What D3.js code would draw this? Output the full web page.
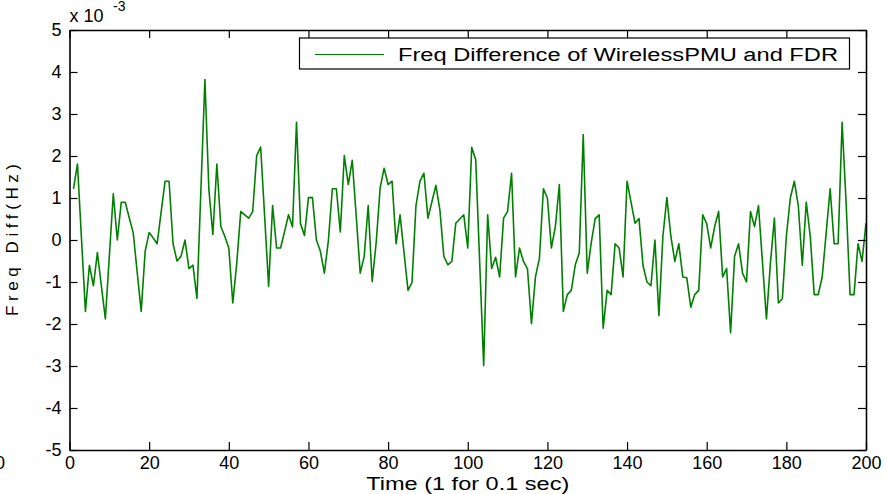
<!DOCTYPE html>
<html>
<head>
<meta charset="utf-8">
<script src="https://cdn.jsdelivr.net/npm/d3@7"></script>
<style>
  body { margin: 0; background: #fff; }
  svg text { font-family: "Liberation Sans", Arial, sans-serif; fill: #000; }
</style>
</head>
<body>
<svg id="chart" width="885" height="494"></svg>
<script>
// frequency difference samples, t = 1..200 (units of 1e-3 Hz)
const freqDiff = [
  1.22, 1.81, 0.05, -1.70, -0.60, -1.09, -0.30, -1.09, -1.88, -0.39,
  1.10, 0.00, 0.90, 0.90, 0.53, 0.17, -0.77, -1.70, -0.27, 0.18,
  0.05, -0.09, 0.66, 1.40, 1.40, -0.09, -0.50, -0.39, 0.00, -0.68,
  -0.60, -1.39, 1.21, 3.82, 1.20, 0.13, 1.81, 0.32, 0.09, -0.19,
  -1.50, -0.55, 0.68, 0.60, 0.52, 0.68, 2.01, 2.21, 0.56, -1.10,
  0.82, -0.19, -0.19, 0.20, 0.60, 0.31, 2.80, 0.39, 0.11, 1.01,
  1.01, 0.00, -0.27, -0.79, -0.02, 1.22, 1.22, 0.19, 2.01, 1.32,
  1.90, 0.56, -0.79, -0.39, 0.82, -0.99, -0.07, 1.24, 1.71, 1.32,
  1.40, -0.09, 0.60, -0.30, -1.20, -1.01, 0.82, 1.40, 1.59, 0.52,
  0.91, 1.30, 0.72, -0.39, -0.59, -0.51, 0.40, 0.50, 0.60, -0.19,
  2.21, 1.91, -0.54, -2.99, 0.60, -0.68, -0.41, -0.88, 0.52, 0.68,
  1.59, -0.88, -0.19, -0.51, -0.69, -1.99, -0.88, -0.43, 1.22, 1.00,
  -0.19, 0.32, 1.32, -1.70, -1.30, -1.20, -0.59, -0.31, 2.51, -0.79,
  -0.07, 0.51, 0.60, -2.10, -1.20, -1.30, -0.09, -0.19, -0.88, 1.40,
  0.90, 0.40, 0.51, -0.60, -1.00, -1.09, 0.00, -1.80, 0.09, 1.01,
  0.09, -0.51, -0.09, -0.88, -0.90, -1.60, -1.30, -1.20, 0.60, 0.39,
  -0.19, 0.32, 0.68, -0.88, -0.68, -2.21, -0.39, -0.09, -0.79, -1.00,
  0.68, 0.32, 0.82, -0.53, -1.88, -0.55, 0.52, -1.50, -1.40, 0.09,
  1.00, 1.40, 0.82, -0.60, 0.90, 0.09, -1.30, -1.30, -0.88, 0.17,
  1.22, -0.09, -0.09, 2.80, 0.90, -1.30, -1.30, -0.09, -0.51, 0.40
];
const xTicks = [0, 20, 40, 60, 80, 100, 120, 140, 160, 180, 200];
const yTicks = [-5, -4, -3, -2, -1, 0, 1, 2, 3, 4, 5];
const seriesName = 'Freq Difference of WirelessPMU and FDR';
const xTitle = 'Time (1 for 0.1 sec)';
const yTitle = 'Freq Diff(Hz)';

const margin = { left: 69.5, right: 19, top: 30, bottom: 44 };
const width = 885, height = 494;
const svg = d3.select('#chart');

const x = d3.scaleLinear().domain([0, 200]).range([margin.left, width - margin.right]);
const y = d3.scaleLinear().domain([-5, 5]).range([height - margin.bottom, margin.top]);

const tickLen = 8;
const fontSize = 18;
const plain = d => String(d); // hyphen minus, as in the original

// clip so the trace stays inside the box
svg.append('clipPath').attr('id', 'plotClip')
  .append('rect')
  .attr('x', x(0)).attr('y', y(5))
  .attr('width', x(200) - x(0)).attr('height', y(-5) - y(5));

const data = freqDiff.map((v, i) => ({ t: i + 1, v }));

svg.append('path')
  .datum(data)
  .attr('clip-path', 'url(#plotClip)')
  .attr('fill', 'none')
  .attr('stroke', '#008000')
  .attr('stroke-width', 1.6)
  .attr('stroke-linejoin', 'round')
  .attr('d', d3.line().x(d => x(d.t)).y(d => y(d.v)));

// axes: ticks pointing inward on all four sides (box style)
const axisBottom = svg.append('g')
  .attr('transform', `translate(0,${y(-5)})`)
  .call(d3.axisBottom(x).tickValues(xTicks).tickFormat(plain).tickSizeInner(-tickLen).tickSizeOuter(0).tickPadding(6));
const axisTop = svg.append('g')
  .attr('transform', `translate(0,${y(5)})`)
  .call(d3.axisTop(x).tickValues(xTicks).tickSizeInner(-tickLen).tickSizeOuter(0).tickFormat(''));
const axisLeft = svg.append('g')
  .attr('transform', `translate(${x(0)},0)`)
  .call(d3.axisLeft(y).tickValues(yTicks).tickFormat(plain).tickSizeInner(-tickLen).tickSizeOuter(0).tickPadding(8));
const axisRight = svg.append('g')
  .attr('transform', `translate(${x(200)},0)`)
  .call(d3.axisRight(y).tickValues(yTicks).tickSizeInner(-tickLen).tickSizeOuter(0).tickFormat(''));

[axisBottom, axisTop, axisLeft, axisRight].forEach(g => {
  g.select('.domain').attr('stroke', '#000').attr('stroke-width', 1.6);
  g.selectAll('.tick line').attr('stroke', '#000').attr('stroke-width', 1.2);
  g.selectAll('.tick text')
    .style('font-family', '"Liberation Sans", Arial, sans-serif')
    .style('font-size', fontSize + 'px')
    .attr('fill', '#000');
});

// stray "0" label at the far left edge of the original figure
svg.append('text')
  .attr('x', 0).attr('y', y(-5) + 6 + fontSize * 0.71)
  .attr('text-anchor', 'middle')
  .style('font-size', fontSize + 'px')
  .text('0');

// exponent label
svg.append('text')
  .attr('x', x(0)).attr('y', 22)
  .style('font-size', fontSize + 'px')
  .text('x 10');
svg.append('text')
  .attr('x', 113).attr('y', 11)
  .style('font-size', '14px')
  .text('-3');

// axis titles
svg.append('text')
  .attr('x', (x(0) + x(200)) / 2).attr('y', 490)
  .attr('text-anchor', 'middle')
  .attr('textLength', 203).attr('lengthAdjust', 'spacingAndGlyphs')
  .style('font-size', fontSize + 'px')
  .text(xTitle);

svg.append('text')
  .attr('transform', `translate(18,${(y(5) + y(-5)) / 2}) rotate(-90)`)
  .attr('text-anchor', 'middle')
  .attr('textLength', 152).attr('lengthAdjust', 'spacing')
  .style('font-size', '17px')
  .text(yTitle);

// legend
const legend = svg.append('g');
legend.append('rect')
  .attr('x', 299.5).attr('y', 38).attr('width', 550).attr('height', 31)
  .attr('fill', '#fff').attr('stroke', '#000').attr('stroke-width', 1.2);
legend.append('line')
  .attr('x1', 315).attr('x2', 384).attr('y1', 54.5).attr('y2', 54.5)
  .attr('stroke', '#008000').attr('stroke-width', 1.2);
legend.append('text')
  .attr('x', 398).attr('y', 61)
  .attr('textLength', 440).attr('lengthAdjust', 'spacingAndGlyphs')
  .style('font-size', fontSize + 'px')
  .text(seriesName);
</script>
</body>
</html>
